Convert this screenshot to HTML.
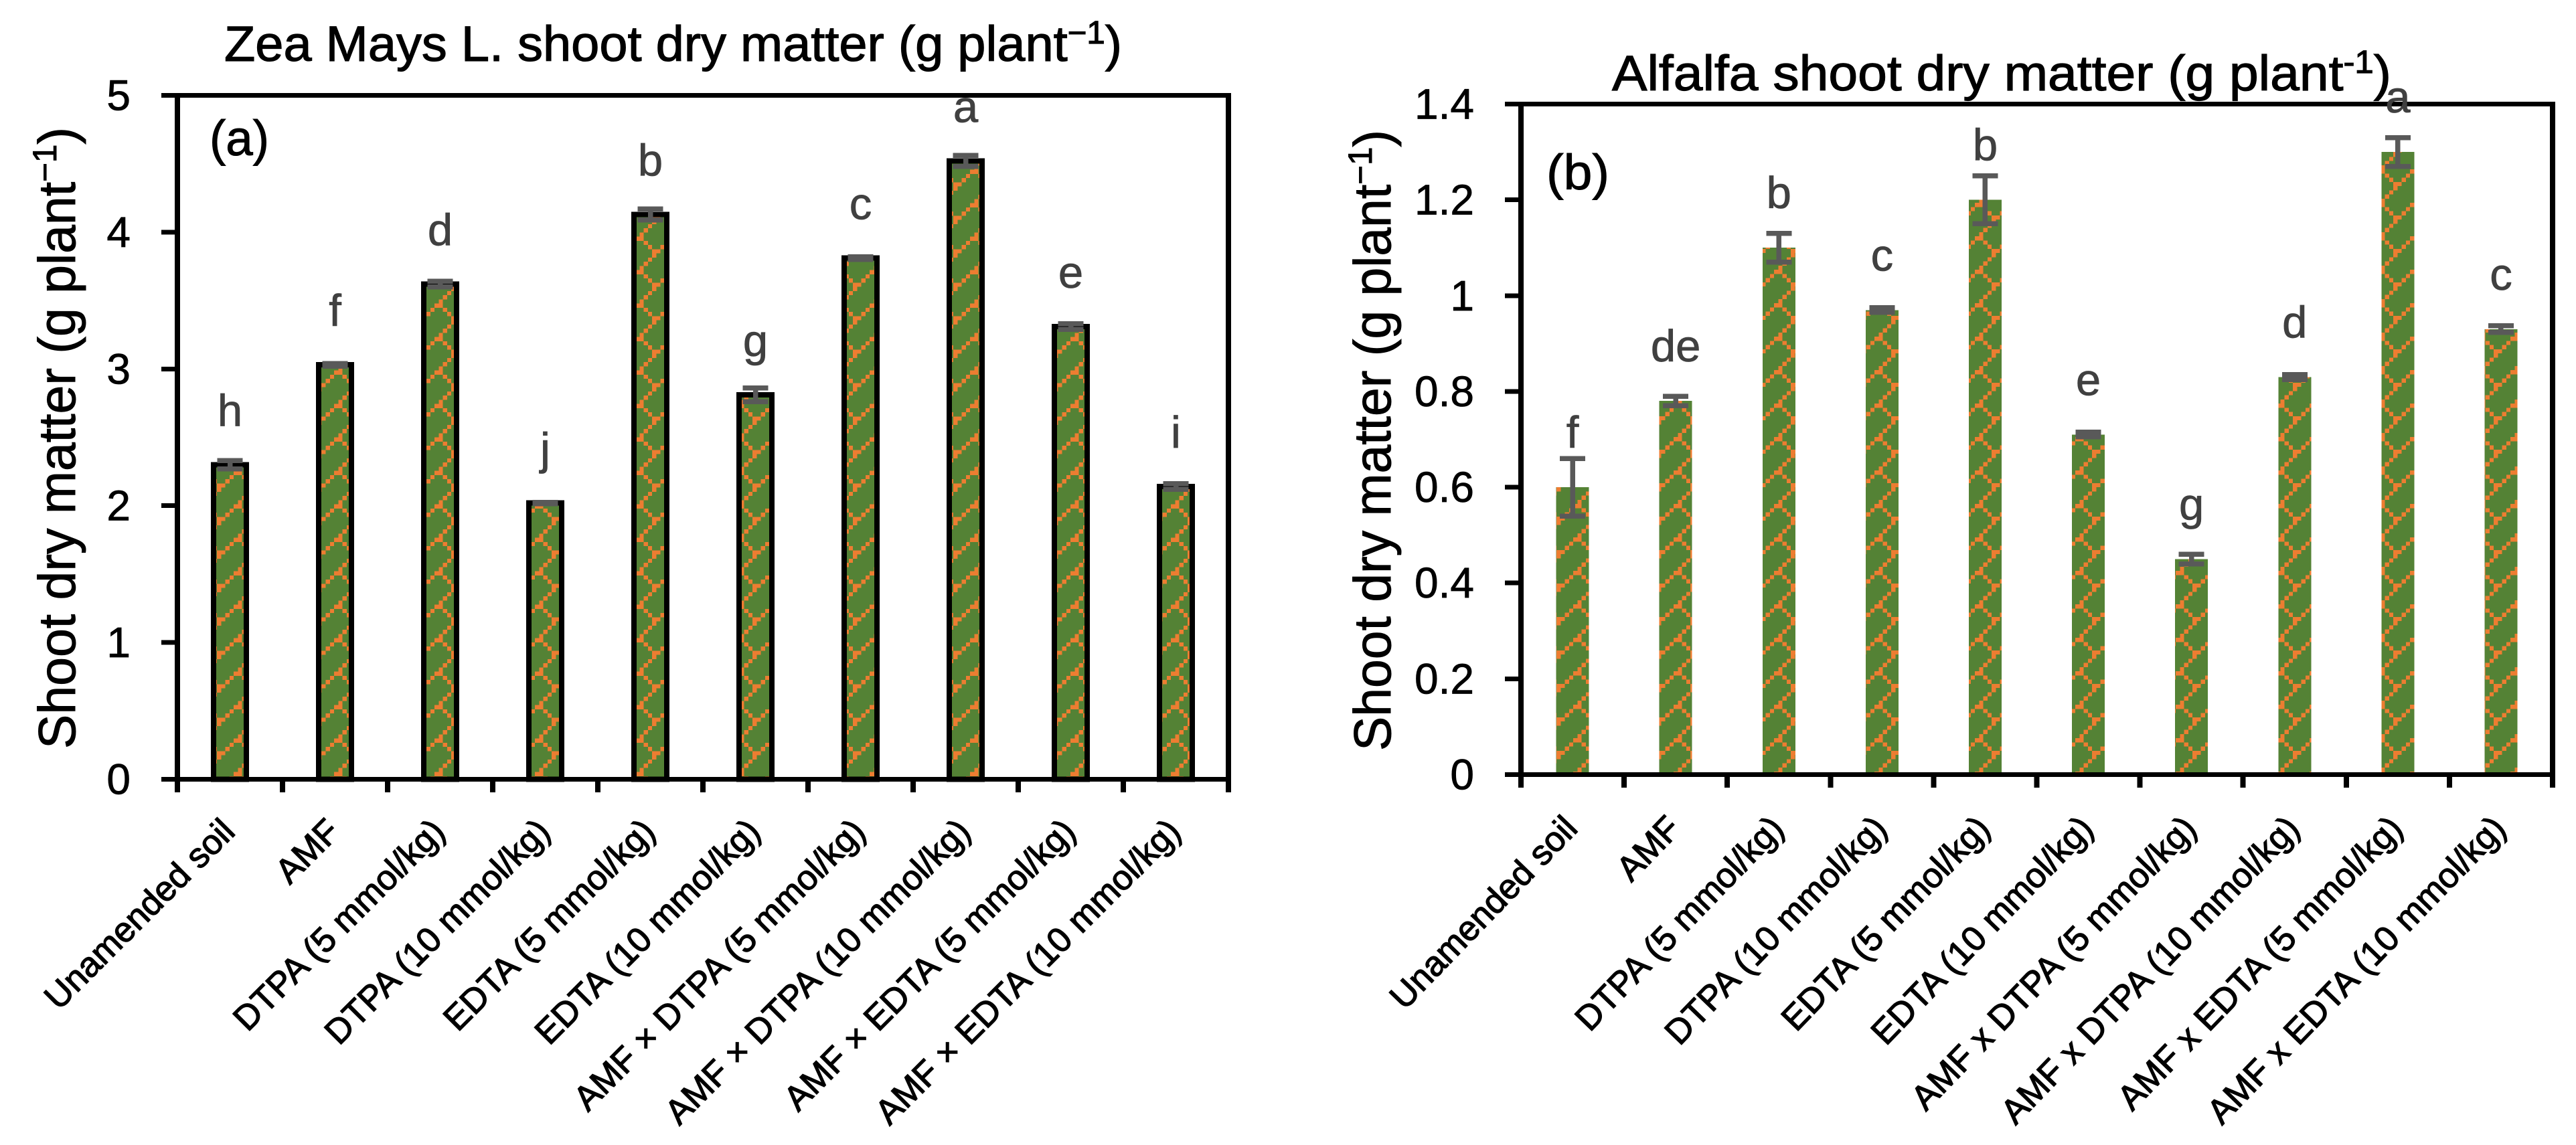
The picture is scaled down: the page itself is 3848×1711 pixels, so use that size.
<!DOCTYPE html>
<html>
<head>
<meta charset="utf-8">
<title>Shoot dry matter charts</title>
<style>
html,body{margin:0;padding:0;background:#fff;}
svg{display:block;}
text{font-family:"Liberation Sans",sans-serif;}
</style>
</head>
<body>
<svg id="figure" xmlns="http://www.w3.org/2000/svg" width="3848" height="1711" viewBox="0 0 3848 1711">
<defs>
<pattern id="hatch-a" patternUnits="userSpaceOnUse" x="324" y="703.5" width="50" height="50" shape-rendering="crispEdges">
<rect width="50" height="50" fill="#548235"/>
<g fill="#ED7D31">
<rect x="25" y="0" width="12.5" height="6.25"/>
<rect x="18.75" y="6.25" width="6.25" height="6.25"/><rect x="37.5" y="6.25" width="6.25" height="6.25"/>
<rect x="12.5" y="12.5" width="6.25" height="6.25"/><rect x="43.75" y="12.5" width="6.25" height="6.25"/>
<rect x="0" y="18.75" width="12.5" height="6.25"/>
<rect x="0" y="25" width="6.25" height="6.25"/>
<rect x="43.75" y="31.25" width="6.25" height="6.25"/>
<rect x="37.5" y="37.5" width="6.25" height="6.25"/>
<rect x="31.25" y="43.75" width="6.25" height="6.25"/>
</g>
</pattern>
<pattern id="hatch-b" href="#hatch-a" x="2325" y="753"></pattern>
</defs>

<g id="panel-a"></g>
<g id="panel-b"></g>

<text x="335" y="91" font-size="74" fill="#000" stroke="#000" stroke-width="1.2" textLength="1341" lengthAdjust="spacingAndGlyphs">Zea Mays L. shoot dry matter (g plant<tspan font-size="48" dy="-26">−1</tspan><tspan dy="26">)</tspan></text>
<text x="2408" y="135" font-size="74" fill="#000" stroke="#000" stroke-width="1.2" textLength="1164" lengthAdjust="spacingAndGlyphs">Alfalfa shoot dry matter (g plant<tspan font-size="48" dy="-26">-1</tspan><tspan dy="26">)</tspan></text>

<text transform="translate(112,1119) rotate(-90)" font-size="78" fill="#000" stroke="#000" stroke-width="1" textLength="929" lengthAdjust="spacingAndGlyphs">Shoot dry matter (g plant<tspan font-size="50" dy="-28">−1</tspan><tspan dy="28">)</tspan></text>
<text transform="translate(2077,1122) rotate(-90)" font-size="78" fill="#000" stroke="#000" stroke-width="1" textLength="928" lengthAdjust="spacingAndGlyphs">Shoot dry matter (g plant<tspan font-size="50" dy="-28">−1</tspan><tspan dy="28">)</tspan></text>

<text x="313" y="232" font-size="74" fill="#000" stroke="#000" stroke-width="1" textLength="89" lengthAdjust="spacingAndGlyphs">(a)</text>
<text x="2310" y="283" font-size="74" fill="#000" stroke="#000" stroke-width="1" textLength="94" lengthAdjust="spacingAndGlyphs">(b)</text>
</svg>

<script>
var categoriesA = ["Unamended soil","AMF","DTPA (5 mmol/kg)","DTPA (10 mmol/kg)","EDTA (5 mmol/kg)","EDTA (10 mmol/kg)","AMF × DTPA (5 mmol/kg)","AMF × DTPA (10 mmol/kg)","AMF × EDTA (5 mmol/kg)","AMF × EDTA (10 mmol/kg)"];
var valuesA = [2.3,3.03,3.62,2.02,4.13,2.81,3.81,4.52,3.31,2.14];
var errorsA = [0.03,0.01,0.02,0.005,0.04,0.05,0.01,0.04,0.02,0.02];
var lettersA = ["h","f","d","j","b","g","c","a","e","i"];
var tickLabelsA = ["0","1","2","3","4","5"];

var categoriesB = ["Unamended soil","AMF","DTPA (5 mmol/kg)","DTPA (10 mmol/kg)","EDTA (5 mmol/kg)","EDTA (10 mmol/kg)","AMF x DTPA (5 mmol/kg)","AMF x DTPA (10 mmol/kg)","AMF x EDTA (5 mmol/kg)","AMF x EDTA (10 mmol/kg)"];
var valuesB = [0.6,0.78,1.1,0.97,1.2,0.71,0.45,0.83,1.3,0.93];
var errorsB = [0.06,0.01,0.03,0.005,0.05,0.005,0.01,0.005,0.03,0.007];
var lettersB = ["f","de","b","c","b","e","g","d","a","c"];
var tickLabelsB = ["0","0.2","0.4","0.6","0.8","1","1.2","1.4"];

var NS = "http://www.w3.org/2000/svg";

function node(parent, tag, attrs) {
  var el = document.createElementNS(NS, tag);
  for (var k in attrs) { el.setAttribute(k, attrs[k]); }
  parent.appendChild(el);
  return el;
}

function drawChart(cfg) {
  var g = document.getElementById(cfg.id);
  var n = cfg.categories.length;
  var maxTick = parseFloat(cfg.ticks[cfg.ticks.length - 1]);
  function yScale(v) { return cfg.y0 + (cfg.yTop - cfg.y0) * (v / maxTick); }
  function xEdge(i) { return cfg.x0 + (cfg.x1 - cfg.x0) * i / n; }
  function xCenter(i) { return xEdge(i + 0.5); }

  var barW = 49;
  cfg.values.forEach(function (v, i) {
    var bar = node(g, "rect", {
      x: xCenter(i) - barW / 2, y: yScale(v),
      width: barW, height: Math.max(0, cfg.y0 - yScale(v)),
      fill: "url(#" + cfg.pattern + ")",
      stroke: cfg.barStroke ? "#000" : "none",
      "stroke-width": cfg.barStroke ? 8 : 0,
      "shape-rendering": "crispEdges"
    });
    
    
  });

  var frameV = node(g, "path", {
    d: "M" + cfg.x0 + " " + (cfg.y0 + 3.5) + "V" + (cfg.yTop - 3.5) + "M" + cfg.x1 + " " + (cfg.yTop - 3.5) + "V" + (cfg.y0 + 3.5),
    stroke: "#000", "stroke-width": 8, fill: "none", "shape-rendering": "crispEdges"
  });
  
  

  var frameTop = node(g, "line", {
    x1: cfg.x0 - 24, x2: cfg.x1 + 4, y1: cfg.yTop, y2: cfg.yTop,
    stroke: "#000", "stroke-width": 7, "shape-rendering": "crispEdges"
  });
  
  

  var xAxis = node(g, "line", {
    x1: cfg.x0 - 24, x2: cfg.x1 + 4, y1: cfg.y0, y2: cfg.y0,
    stroke: "#000", "stroke-width": 7, "shape-rendering": "crispEdges"
  });
  
  

  cfg.values.forEach(function (v, i) {
    var c = xCenter(i), hi = yScale(v + cfg.errors[i]), lo = yScale(v - cfg.errors[i]);
    var eb = node(g, "path", {
      d: "M" + c + " " + hi + "V" + lo + "M" + (c - 19) + " " + hi + "H" + (c + 19) + "M" + (c - 19) + " " + lo + "H" + (c + 19),
      stroke: "#595959", "stroke-width": 7.5, fill: "none", "shape-rendering": "crispEdges"
    });
    
    

    var lt = node(g, "text", {
      x: c, y: yScale(v) - cfg.letterOffset, "text-anchor": "middle",
      "font-size": 67, fill: "#404040", stroke: "#404040", "stroke-width": 0.8
    });
    lt.textContent = cfg.letters[i];
    
    
  });

  cfg.ticks.forEach(function (t) {
    var v = parseFloat(t), y = yScale(v);
    var tk = node(g, "line", {
      x1: cfg.x0 - 24, x2: cfg.x0, y1: y, y2: y,
      stroke: "#000", "stroke-width": 7, "shape-rendering": "crispEdges"
    });
    
    

    var lb = node(g, "text", {
      x: cfg.tickLabelX, y: y + 22, "text-anchor": "end",
      "font-size": 64, fill: "#000", stroke: "#000", "stroke-width": 0.8
    });
    lb.textContent = t;
    
    
  });

  for (var i = 0; i <= n; i++) {
    var tx = node(g, "line", {
      x1: xEdge(i), x2: xEdge(i), y1: cfg.y0, y2: cfg.y0 + 19.5,
      stroke: "#000", "stroke-width": 8, "shape-rendering": "crispEdges"
    });
    
    
  }

  cfg.categories.forEach(function (name, i) {
    var px = xCenter(i) + 10, py = cfg.y0 + cfg.labelDrop;
    var cl = node(g, "text", {
      transform: "translate(" + px + "," + py + ") rotate(" + cfg.labelAngle + ")",
      "text-anchor": "end", "font-size": cfg.labelSize, fill: "#000",
      stroke: "#000", "stroke-width": 1.3
    });
    cl.textContent = name;
    
    
  });
}

drawChart({
  id: "panel-a", pattern: "hatch-a", barStroke: true,
  categories: categoriesA, values: valuesA, errors: errorsA, letters: lettersA, ticks: tickLabelsA,
  x0: 265, x1: 1835, y0: 1164.5, yTop: 142.5, tickLabelX: 195, letterOffset: 58,
  labelDrop: 81, labelAngle: -45, labelSize: 52
});
drawChart({
  id: "panel-b", pattern: "hatch-b", barStroke: false,
  categories: categoriesB, values: valuesB, errors: errorsB, letters: lettersB, ticks: tickLabelsB,
  x0: 2272, x1: 3813, y0: 1157.5, yTop: 155.5, tickLabelX: 2202, letterOffset: 59,
  labelDrop: 83, labelAngle: -46, labelSize: 52
});
</script>
</body>
</html>
